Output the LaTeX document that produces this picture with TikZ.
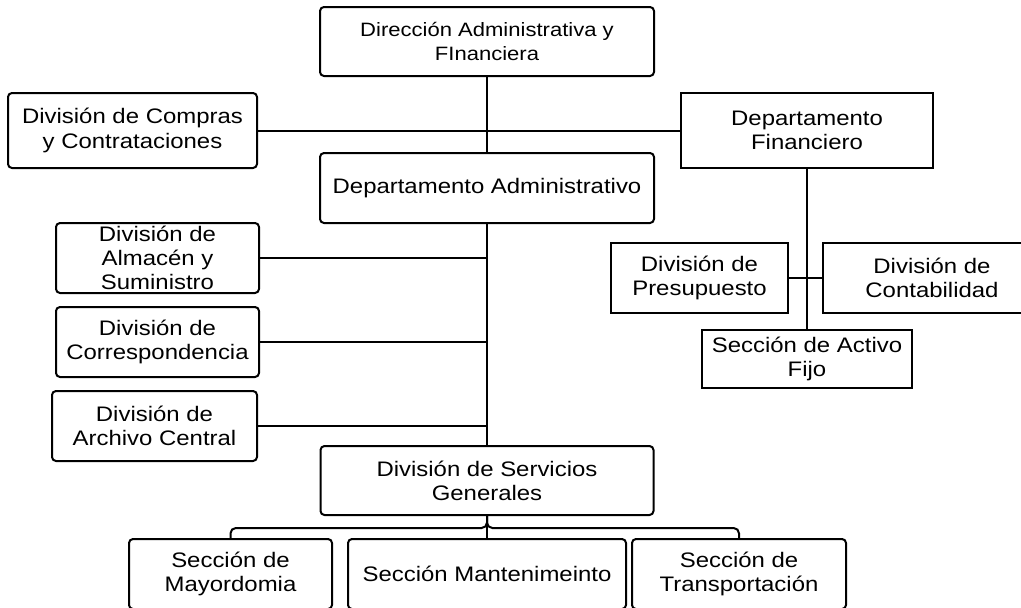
\documentclass[tikz,border=0pt]{standalone}
\usepackage{fontspec}
\setmainfont[FakeStretch=1.14]{Liberation Sans}
\begin{document}
\begin{tikzpicture}[x=0.75pt,y=-0.75pt,
  unit/.style={draw,line width=1.5pt,align=center,inner sep=0pt,
    font=\fontsize{15.75}{18.2}\selectfont},
  sz/.style 2 args={minimum width=#1*0.75pt,minimum height=#2*0.75pt},
  rbox/.style={unit,rounded corners=3pt},
  sbox/.style={unit},
  link/.style={line width=1.5pt}]
  \useasboundingbox (0,0) rectangle (1021,607);
  % direction and departments
  \node[rbox,sz={334}{69},font=\fontsize{14.5}{18.2}\selectfont] (dir) at (487,41.5) {Dirección Administrativa y\\FInanciera};
  \node[rbox,sz={249}{75}] (compras) at (132.5,130.5) {División de Compras\\y Contrataciones};
  \node[sbox,sz={252}{75}] (fin) at (807,130.5) {Departamento\\Financiero};
  \node[rbox,sz={334}{70}] (admin) at (487,188) {Departamento Administrativo};
  % administrative divisions
  \node[rbox,sz={203}{70}] (almacen) at (157.5,258) {División de\\Almacén y\\Suministro};
  \node[rbox,sz={203}{70}] (corresp) at (157.5,342) {División de\\Correspondencia};
  \node[rbox,sz={205}{70}] (archivo) at (154.5,426) {División de\\Archivo Central};
  \node[rbox,sz={333}{69}] (serv) at (487,480.5) {División de Servicios\\Generales};
  % financial divisions
  \node[sbox,sz={177}{70}] (presup) at (699.5,278) {División de\\Presupuesto};
  \node[sbox,sz={218}{70}] (contab) at (932,278) {División de\\Contabilidad};
  \node[sbox,sz={210}{58}] (activo) at (807,359) {Sección de Activo\\Fijo};
  % sections
  \node[rbox,sz={203}{70}] (mayor) at (230.5,574) {Sección de\\Mayordomia};
  \node[rbox,sz={278}{70}] (mant) at (487,574) {Sección Mantenimeinto};
  \node[rbox,sz={214}{70}] (transp) at (739,574) {Sección de\\Transportación};
  % connectors
  \draw[link] (dir.south) -- (admin.north);
  \draw[link] (compras.east) -- (fin.west);
  \draw[link] (admin.south) -- (serv.north);
  \foreach \n in {almacen,corresp,archivo}
    \draw[link] (\n.east) -- (\n.east -| admin.south);
  \draw[link] (fin.south) -- (activo.north);
  \draw[link] (presup.east) -- (contab.west);
  \coordinate (bus) at (487,528);
  \draw[link,rounded corners=4pt] (serv.south) -- (bus) -| (mayor.north);
  \draw[link,rounded corners=4pt] (serv.south) -- (bus) -| (transp.north);
  \draw[link] (serv.south) -- (mant.north);
\end{tikzpicture}
\end{document}
